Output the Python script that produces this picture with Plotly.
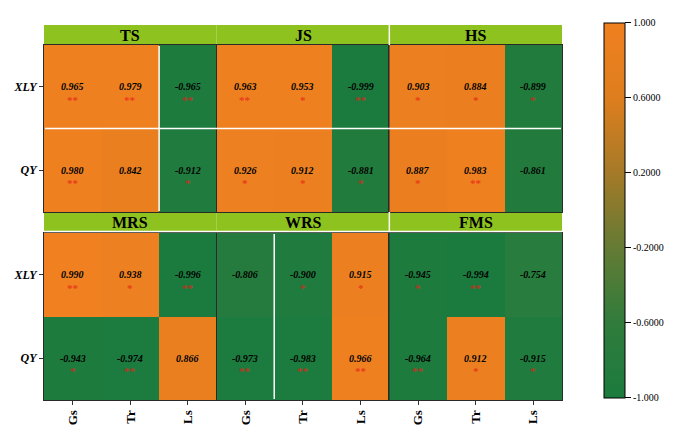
import plotly.graph_objects as go
from plotly.subplots import make_subplots

panels = ["TS", "JS", "HS", "MRS", "WRS", "FMS"]
cols = ["Gs", "Tr", "Ls"]
rows = ["XLY", "QY"]

# values[panel] = [[XLY Gs, Tr, Ls], [QY Gs, Tr, Ls]]
vals_TS = [[0.965, 0.979, -0.965], [0.980, 0.842, -0.912]]
vals_JS = [[0.963, 0.953, -0.999], [0.926, 0.912, -0.881]]
vals_HS = [[0.903, 0.884, -0.899], [0.887, 0.983, -0.861]]
vals_MRS = [[0.990, 0.938, -0.996], [-0.943, -0.974, 0.866]]
vals_WRS = [[-0.806, -0.900, 0.915], [-0.973, -0.983, 0.966]]
vals_FMS = [[-0.945, -0.994, -0.754], [-0.964, 0.912, -0.915]]

sig_TS = [["**", "**", "**"], ["**", "", "*"]]
sig_JS = [["**", "*", "**"], ["*", "*", "*"]]
sig_HS = [["*", "*", "*"], ["*", "**", ""]]
sig_MRS = [["**", "*", "**"], ["*", "**", ""]]
sig_WRS = [["", "*", "*"], ["**", "**", "**"]]
sig_FMS = [["*", "**", ""], ["**", "*", "*"]]

values = [vals_TS, vals_JS, vals_HS, vals_MRS, vals_WRS, vals_FMS]
sigs = [sig_TS, sig_JS, sig_HS, sig_MRS, sig_WRS, sig_FMS]

tick_vals = [1.0, 0.6, 0.2, -0.2, -0.6, -1.0]
tick_text = ["1.000", "0.6000", "0.2000", "-0.2000", "-0.6000", "-1.000"]

COLORSCALE = [
    [0.0, "rgb(27,123,62)"],
    [0.2, "rgb(48,124,60)"],
    [0.4, "rgb(100,123,52)"],
    [0.5, "rgb(132,122,46)"],
    [0.6, "rgb(165,122,40)"],
    [0.8, "rgb(222,126,30)"],
    [1.0, "rgb(240,128,32)"],
]
STRIP = "#8DC21F"
SERIF = "Liberation Serif"

fig = make_subplots(rows=2, cols=3, horizontal_spacing=0, vertical_spacing=0.0592)

for i, name in enumerate(panels):
    r = i // 3 + 1
    c = i % 3 + 1
    v = values[i]
    z = [v[1], v[0]]
    fig.add_trace(go.Heatmap(
        z=z, x=cols, y=["QY", "XLY"], coloraxis="coloraxis",
        hoverinfo="skip"), row=r, col=c)
    xref = "x" if i == 0 else f"x{i+1}"
    yref = "y" if i == 0 else f"y{i+1}"
    for ri, rn in enumerate(rows):
        for ci, cn in enumerate(cols):
            fig.add_annotation(x=cn, y=rn, xref=xref, yref=yref,
                               text=f"<b><i>{v[ri][ci]:.3f}</i></b>",
                               showarrow=False,
                               font=dict(family=SERIF, size=10, color="black"))
            s = sigs[i][ri][ci]
            if s:
                fig.add_annotation(x=cn, y=rn, xref=xref, yref=yref,
                                   text=f"<b>{s}</b>", showarrow=False, yshift=-13,
                                   font=dict(family=SERIF, size=11,
                                             color="rgba(232,32,22,0.75)"))

for i in range(6):
    r = i // 3 + 1
    c = i % 3 + 1
    fig.update_xaxes(showline=True, mirror=True, linecolor="#2a2a2a", linewidth=1,
                     showgrid=False, zeroline=False, automargin=False,
                     ticks="outside" if r == 2 else "", ticklen=4, tickcolor="#333",
                     showticklabels=(r == 2), tickangle=-90,
                     tickfont=dict(family=SERIF, size=13, color="black", weight="bold"),
                     row=r, col=c)
    fig.update_yaxes(showline=True, mirror=True, linecolor="#2a2a2a", linewidth=1,
                     showgrid=False, zeroline=False, automargin=False,
                     ticks="outside" if c == 1 else "", ticklen=4, tickcolor="#333",
                     showticklabels=(c == 1),
                     tickfont=dict(family=SERIF, size=12, color="black",
                                   weight="bold", style="italic"),
                     row=r, col=c)

shapes = []
top_lo, bot_hi = 0.5296, 0.4704
strip_rows = [(1.0, 1.0563), (0.4732, 0.5296)]
for i, name in enumerate(panels):
    r = i // 3
    c = i % 3
    y0, y1 = strip_rows[r]
    shapes.append(dict(type="rect", xref="paper", yref="paper",
                       x0=c / 3, x1=(c + 1) / 3, y0=y0, y1=y1,
                       fillcolor=STRIP, line=dict(width=0), layer="below"))
    fig.add_annotation(x=(c + 0.5) / 3, y=(y0 + y1) / 2, xref="paper", yref="paper",
                       xanchor="center", yanchor="middle",
                       text=f"<b>{name}</b>", showarrow=False,
                       font=dict(family=SERIF, size=16, color="black"))

white = dict(color="white", width=1.5)
shapes += [
    dict(type="line", xref="paper", yref="paper", x0=2 / 3, x1=2 / 3, y0=1.0, y1=1.0563, line=white),
    dict(type="line", xref="paper", yref="paper", x0=2 / 3, x1=2 / 3, y0=0.4732, y1=0.5296, line=white),
    dict(type="line", xref="paper", yref="paper", x0=0, x1=1, y0=0.4745, y1=0.4745, line=white),
    dict(type="line", xref="paper", yref="paper", x0=0.002, x1=0.998, y0=(1 + top_lo) / 2, y1=(1 + top_lo) / 2, line=white),
    dict(type="line", xref="paper", yref="paper", x0=2 / 9, x1=2 / 9, y0=top_lo + 0.003, y1=0.997, line=white),
    dict(type="line", xref="paper", yref="paper", x0=4 / 9, x1=4 / 9, y0=0.003, y1=bot_hi - 0.003, line=white),
]

fig.update_layout(
    width=686, height=438,
    margin=dict(l=36, r=132, t=37, b=46),
    paper_bgcolor="white", plot_bgcolor="white",
    shapes=shapes,
    coloraxis=dict(
        cmin=-1, cmax=1,
        colorscale=COLORSCALE,
        colorbar=dict(
            x=1.081, xanchor="left", y=0.534, yanchor="middle",
            thickness=21, len=375, lenmode="pixels", ypad=0, xpad=0,
            outlinecolor="black", outlinewidth=1,
            ticks="outside", ticklen=6, tickcolor="black",
            tickvals=tick_vals, ticktext=tick_text,
            tickfont=dict(family=SERIF, size=10, color="black"),
        ),
    ),
    showlegend=False,
)

fig.write_html("out.html")
